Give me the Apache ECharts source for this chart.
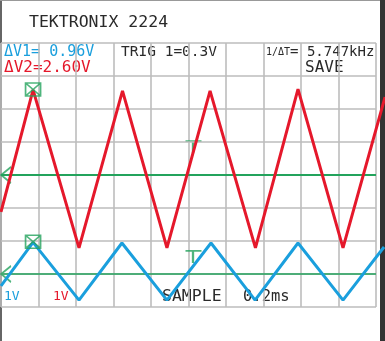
<!DOCTYPE html>
<html>
<head>
<meta charset="utf-8">
<script src="https://cdn.jsdelivr.net/npm/echarts@6/dist/echarts.min.js"></script>
<style>
html,body{margin:0;padding:0;background:#fff;}
#c{width:385px;height:341px;
  background:
    linear-gradient(to right, transparent 380px, #333 380px),
    linear-gradient(to bottom, #999 1px, transparent 1px),
    linear-gradient(to right, transparent 0.5px, #666 0.5px, #666 2px, transparent 2px),
    #fff;}
</style>
</head>
<body>
<div id="c"></div>
<script>
// Time axis (ms), 0.2 ms / div, 10 divisions; the trace runs slightly past the last division
const timeTicks = [0, 0.2, 0.4, 0.6, 0.8, 1.0, 1.2, 1.4, 1.6, 1.8, 2.0];
const timeEnd = 2.048;
// CH2 (red), 1 V/div, ground at centre
const ch2Time = [0, 0.171, 0.416, 0.648, 0.885, 1.115, 1.357, 1.584, 1.824, 2.048];
const ch2Volt = [-1.12, 2.58, -2.21, 2.55, -2.21, 2.55, -2.21, 2.60, -2.21, 2.36];
// CH1 (blue), 1 V/div, ground 3 div below centre
const ch1Time = [0, 0.171, 0.416, 0.645, 0.885, 1.12, 1.355, 1.584, 1.824, 2.043];
const ch1Volt = [-0.36, 0.96, -0.79, 0.94, -0.79, 0.94, -0.79, 0.94, -0.79, 0.82];
// Cursor markers (time, volt)
const cursor2 = [0.171, 2.59];
const cursor1 = [0.171, 0.98];
// Trigger markers
const trig2 = [1.0, 1.03];
const trig1 = [1.0, 0.70];
// Screen readouts
const titleText = 'TEKTRONIX 2224';
const v1Text = 'ΔV1= 0.96V';
const v2Text = 'ΔV2=2.60V';
const trigText = 'TRIG 1=0.3V';
const freqPre = '1/ΔT';
const freqText = '= 5.747kHz';
const saveText = 'SAVE';
const ch1Scale = '1V';
const ch2Scale = '1V';
const modeText = 'SAMPLE';
const timeScale = '0.2ms';

const RED = '#e5182b';
const BLUE = '#1a9fdd';
const GREEN = '#23a35c';
const INK = '#2a2a2a';
const FONT = '"DejaVu Sans Mono", monospace';

const chart = echarts.init(document.getElementById('c'), null, {renderer: 'canvas'});

function pairs(t, v) { return t.map((x, i) => [x, v[i]]); }

const boxX = 'path://M0,0 L15,0 L15,13 L0,13 Z M0,0 L15,13 M15,0 L0,13';
const tee = 'path://M0,0 L16,0 M7.5,0 L7.5,12';
const gnd = 'path://M10,0 L0,8 L10,16';

function txt(text, x, y, size, color) {
  return {type: 'text', x: x, y: y, silent: true,
    style: {text: text, font: size + 'px ' + FONT, fill: color, align: 'left', verticalAlign: 'middle'}};
}
const tFirst = timeTicks[0], tLast = timeTicks[timeTicks.length - 1];

chart.setOption({
  animation: false,
  backgroundColor: 'transparent',
  grid: {left: 1, right: 0, top: 43, bottom: 34, containLabel: false},
  xAxis: {
    type: 'value', min: tFirst, max: timeEnd, interval: 0.2,
    axisLine: {show: false}, axisTick: {show: false}, axisLabel: {show: false},
    splitLine: {show: true, showMaxLine: false, lineStyle: {color: '#bdbdbd', width: 1.6}}
  },
  yAxis: [
    {type: 'value', min: -4, max: 4, interval: 1,
     axisLine: {show: false}, axisTick: {show: false}, axisLabel: {show: false},
     splitLine: {show: false}},
    {type: 'value', min: -1, max: 7, interval: 1, show: false,
     splitLine: {show: false}}
  ],
  series: [
    // horizontal graticule lines, limited to the 10 divisions
    {type: 'line', yAxisIndex: 0, data: [], silent: true,
     markLine: {silent: true, symbol: 'none', label: {show: false}, animation: false,
       lineStyle: {color: '#bdbdbd', width: 1.6, type: 'solid'},
       data: [-4, -3, -2, -1, 0, 1, 2, 3, 4].map(v => [{coord: [tFirst, v]}, {coord: [tLast, v]}])}},
    {type: 'line', yAxisIndex: 0, data: pairs(ch2Time, ch2Volt), showSymbol: false, clip: false,
     lineStyle: {color: RED, width: 3}, z: 5,
     markLine: {silent: true, symbol: 'none', label: {show: false},
       lineStyle: {color: GREEN, width: 2, type: 'solid'}, data: [[{coord: [tFirst, 0]}, {coord: [tLast, 0]}]]}},
    {type: 'line', yAxisIndex: 1, data: pairs(ch1Time, ch1Volt), showSymbol: false, clip: false,
     lineStyle: {color: BLUE, width: 3}, z: 5,
     markLine: {silent: true, symbol: 'none', label: {show: false},
       lineStyle: {color: GREEN, width: 1.6, type: 'solid'}, data: [[{coord: [tFirst, 0]}, {coord: [tLast, 0]}]]}},
    {type: 'scatter', yAxisIndex: 0, data: [cursor2], symbol: boxX, symbolSize: [15, 13],
     itemStyle: {color: 'rgba(0,0,0,0)', borderColor: GREEN, borderWidth: 1.6}, z: 6},
    {type: 'scatter', yAxisIndex: 1, data: [cursor1], symbol: boxX, symbolSize: [15, 13],
     itemStyle: {color: 'rgba(0,0,0,0)', borderColor: GREEN, borderWidth: 1.6}, z: 6},
    {type: 'scatter', yAxisIndex: 0, data: [trig2], symbol: tee, symbolSize: [16, 12],
     symbolOffset: [5, 6], itemStyle: {color: 'rgba(0,0,0,0)', borderColor: GREEN, borderWidth: 2}, z: 4},
    {type: 'scatter', yAxisIndex: 1, data: [trig1], symbol: tee, symbolSize: [16, 12],
     symbolOffset: [5, 6], itemStyle: {color: 'rgba(0,0,0,0)', borderColor: GREEN, borderWidth: 2}, z: 4},
    {type: 'scatter', yAxisIndex: 0, data: [[0, 0]], symbol: gnd, symbolSize: [10, 16],
     symbolOffset: [5, 0], itemStyle: {color: 'rgba(0,0,0,0)', borderColor: GREEN, borderWidth: 1.6}, z: 4},
    {type: 'scatter', yAxisIndex: 1, data: [[0, 0]], symbol: gnd, symbolSize: [10, 16],
     symbolOffset: [5, 0], itemStyle: {color: 'rgba(0,0,0,0)', borderColor: GREEN, borderWidth: 1.6}, z: 4}
  ],
  graphic: [
    txt(titleText, 29, 23, 16.5, INK),
    txt(v1Text, 4, 52, 15, BLUE),
    txt(v2Text, 4, 68, 16, RED),
    txt(trigText, 121, 52, 14.5, INK),
    {type: 'text', x: 266, y: 52, silent: true,
     style: {text: '{s|' + freqPre + '}{n|' + freqText + '}', fill: INK, align: 'left', verticalAlign: 'middle',
       rich: {s: {font: '10px ' + FONT, fill: INK}, n: {font: '14px ' + FONT, fill: INK}}}},
    txt(saveText, 305, 68, 16, INK),
    txt(ch1Scale, 4, 297, 13, BLUE),
    txt(ch2Scale, 53, 297, 13, RED),
    txt(modeText, 162, 297, 16.5, INK),
    txt(timeScale, 243, 297, 15.5, INK)
  ]
});
</script>
</body>
</html>
